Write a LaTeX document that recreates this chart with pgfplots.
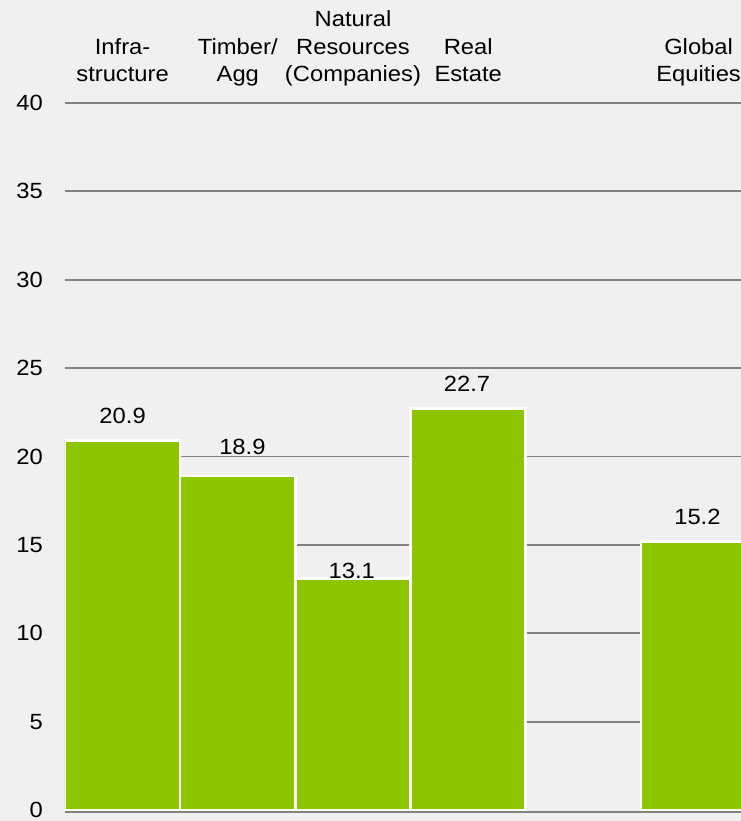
\documentclass[border=0pt]{standalone}
\usepackage{fontspec}
\setmainfont{Liberation Sans}[FakeStretch=1.08]
\usepackage{pgfplots}
\pgfplotsset{compat=1.18}
\usetikzlibrary{backgrounds}
\definecolor{bgc}{RGB}{240,240,240}
\definecolor{barg}{RGB}{141,198,0}
\definecolor{gridc}{RGB}{130,130,130}
\begin{document}
\fontsize{22}{27.5}\selectfont
\begin{tikzpicture}[font=\fontsize{22}{27.5}\selectfont]
\begin{axis}[name=ax, scale only axis, width=676pt, height=709.12pt,
  xmin=-0.5, xmax=5.368, ymin=-0.12, ymax=40,
  xtick={0,1,2,3,5},
  xticklabels={Infra-\\structure, Timber/\\Agg, Natural\\Resources\\(Companies), Real\\Estate, Global\\Equities},
  xticklabel pos=upper,
  xticklabel style={align=center, anchor=south, inner sep=0pt, text depth=0pt, yshift=21pt},
  ytick={5,10,...,40},
  extra y ticks={0},
  extra y tick style={grid style={draw=none}},
  yticklabel style={anchor=east, inner sep=0pt, xshift=-22pt},
  /pgf/number format/assume math mode=true,
  tick style={draw=none},
  ymajorgrids, grid style={gridc, line width=1.8pt},
  separate axis lines,
  x axis line style={gridc, line width=1.8pt},
  y axis line style={draw=none},
]
\addplot[ybar, bar width=1, fill=barg, draw=white, line width=2.6pt]
  coordinates {(0,20.9) (1,18.9) (2,13.1) (3,22.7) (5,15.2)};
\addplot[draw=none, mark=none, nodes near coords, point meta=explicit symbolic,
  nodes near coords style={anchor=center, inner sep=0pt}]
  table[meta=lab] {
x y lab
0 22.27 20.9
1.04 20.55 18.9
1.99 13.55 13.1
2.99 24.12 22.7
4.99 16.58 15.2
};
\end{axis}
\pgfresetboundingbox
\begin{scope}[on background layer]
\fill[bgc] ([xshift=-65pt,yshift=-8.9pt]ax.south west) rectangle ([yshift=103pt]ax.north east);
\end{scope}
\end{tikzpicture}
\end{document}
